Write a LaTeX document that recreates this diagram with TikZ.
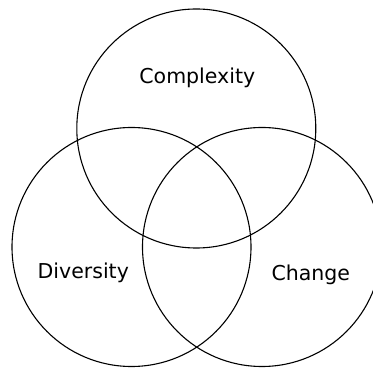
\documentclass[tikz,border=0pt]{standalone}
\usepackage{fontspec}
\setmainfont{DejaVu Sans}
\begin{document}
\begin{tikzpicture}[x=1pt,y=1pt,
  ring/.style={draw=black,line width=1.1pt,circle,minimum size=239pt,inner sep=0pt},
  lbl/.style={anchor=base,font=\fontsize{20.5}{24}\selectfont,text=black}]
\useasboundingbox (0,0) rectangle (373,369);
\clip (0,0) rectangle (373,369);
\node[ring] (top) at (196.3,240.5) {};
\node[ring] (left) at (131.5,122) {};
\node[ring] (right) at (262,122) {};
\node[lbl] (complexity) at (197.3,285.7) {Complexity};
\node[lbl] (diversity) at (83.3,90) {Diversity};
\node[lbl] (change) at (310.8,88.5) {Change};
\end{tikzpicture}
\end{document}
